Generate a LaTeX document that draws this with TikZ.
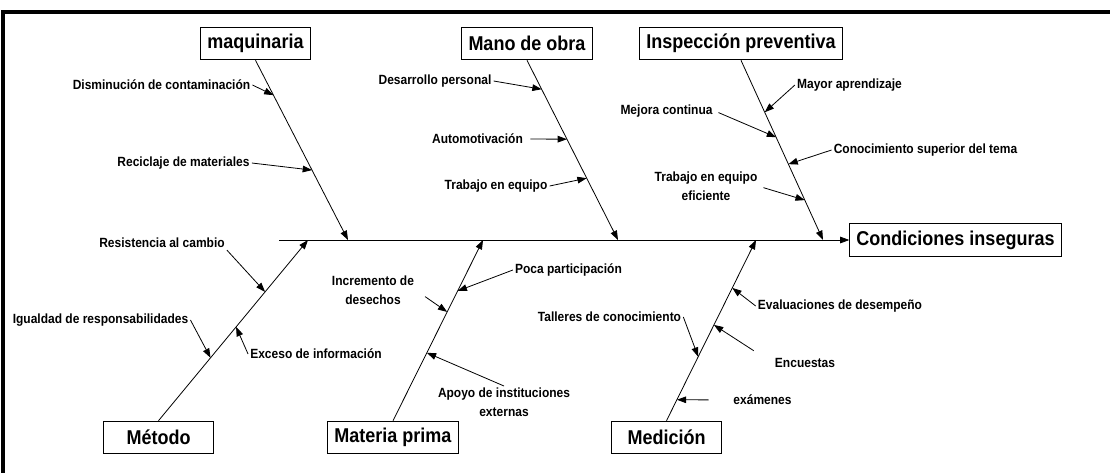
\documentclass[tikz,border=0pt]{standalone}
\usepackage{fontspec}
\newfontfamily\fishfont{Liberation Sans}[FakeStretch=0.9]
\usetikzlibrary{arrows.meta,calc}
\tikzset{
  catbox/.style={draw=black, line width=0.7pt, fill=white, inner xsep=5pt, inner ysep=0pt, minimum width=82pt, minimum height=24.5pt, font=\fishfont\bfseries\fontsize{15}{17}\selectfont},
  arrow/.style={-{Triangle[length=7pt,width=5pt]}, line width=0.6pt},
  frame/.style={line width=2.3pt}
}

\begin{document}
\begin{tikzpicture}[x=0.75pt, y=-0.75pt, lbl/.style={font=\fishfont\bfseries\fontsize{10}{14}\selectfont, align=center, inner sep=1.5pt}]
\useasboundingbox (0,0) rectangle (1110,472);
\clip (0,0) rectangle (1110,472);
% frame
\draw[frame] (3,12) rectangle (1120,480);
% effect and spine
\node[catbox] (cond) at (955.5,240) {Condiciones inseguras};
\coordinate (tail) at (279,240);
\draw[arrow] (tail) -- (cond.west);
% categories
\node[catbox] (maq) at (255.5,43.5) {maquinaria};
\node[catbox] (mano) at (527,43.5) {Mano de obra};
\node[catbox] (insp) at (741,43.5) {Inspección preventiva};
\node[catbox] (met) at (158.5,437.5) {Método};
\node[catbox] (mat) at (393,437.5) {Materia prima};
\node[catbox] (med) at (666.5,437.5) {Medición};
% main bones
\coordinate (jmaq) at (348,240);
\coordinate (jmano) at (618,240);
\coordinate (jinsp) at (823,240);
\coordinate (jmet) at (308,240);
\coordinate (jmat) at (483,240);
\coordinate (jmed) at (756,240);
\draw[arrow] (maq.south) -- (jmaq);
\draw[arrow] (mano.south) -- (jmano);
\draw[arrow] (insp.south) -- (jinsp);
\draw[arrow] (met.north) -- (jmet);
\draw[arrow] (mat.north) -- (jmat);
\draw[arrow] (med.north) -- (jmed);
% maquinaria causes
\node[lbl] (dis) at (161.5,85) {Disminución de contaminación};
\node[lbl] (rec) at (183.5,163) {Reciclaje de materiales};
\coordinate (tdis) at ($(maq.south)!0.194!(jmaq)$);
\coordinate (trec) at ($(maq.south)!0.611!(jmaq)$);
\draw[arrow] (dis.east) -- (tdis);
\draw[arrow] (rec.east) -- (trec);
% mano de obra causes
\node[lbl] (des) at (435,81) {Desarrollo personal};
\node[lbl] (aut) at (477.5,139) {Automotivación};
\node[lbl] (tra) at (496,186) {Trabajo en equipo};
\coordinate (tdes) at ($(mano.south)!0.161!(jmano)$);
\coordinate (taut) at ($(mano.south)!0.439!(jmano)$);
\coordinate (ttra) at ($(mano.south)!0.656!(jmano)$);
\draw[arrow] (des.east) -- (tdes);
\draw[arrow, shorten <=4pt] (aut.east) -- (taut);
\draw[arrow] (tra.east) -- (ttra);
% inspeccion causes
\node[lbl] (may) at (849.5,85) {Mayor aprendizaje};
\node[lbl] (mej) at (666.5,111) {Mejora continua};
\node[lbl] (con) at (925.5,150) {Conocimiento superior del tema};
\node[lbl] (efi) at (706,186.5) {Trabajo en equipo\\eficiente};
\coordinate (tmay) at ($(insp.south)!0.289!(jinsp)$);
\coordinate (tmej) at ($(insp.south)!0.428!(jinsp)$);
\coordinate (tcon) at ($(insp.south)!0.578!(jinsp)$);
\coordinate (tefi) at ($(insp.south)!0.778!(jinsp)$);
\draw[arrow] (may.west) -- (tmay);
\draw[arrow, shorten <=3pt] (mej.east) -- (tmej);
\draw[arrow] (con.west) -- (tcon);
\draw[arrow, shorten <=3pt] (efi.east) -- (tefi);
% metodo causes
\node[lbl] (res) at (162,243) {Resistencia al cambio};
\node[lbl] (igu) at (100.5,320) {Igualdad de responsabilidades};
\node[lbl] (exc) at (316,354) {Exceso de información};
\coordinate (tres) at ($(met.north)!0.713!(jmet)$);
\coordinate (tigu) at ($(met.north)!0.348!(jmet)$);
\coordinate (texc) at ($(met.north)!0.519!(jmet)$);
\draw[arrow] (res.south east) -- (tres);
\draw[arrow] (igu.east) -- (tigu);
\draw[arrow] (exc.west) -- (texc);
% materia prima causes
\node[lbl] (inc) at (373,290.5) {Incremento de\\desechos};
\node[lbl] (poc) at (568.5,270) {Poca participación};
\node[lbl] (apo) at (504,402.5) {Apoyo de instituciones\\externas};
\coordinate (tinc) at ($(mat.north)!0.602!(jmat)$);
\coordinate (tpoc) at ($(mat.north)!0.718!(jmat)$);
\coordinate (tapo) at ($(mat.north)!0.376!(jmat)$);
\draw[arrow, shorten <=8pt] (inc.east) -- (tinc);
\draw[arrow] (poc.west) -- (tpoc);
\draw[arrow] (apo.north) -- (tapo);
% medicion causes
\node[lbl] (tal) at (609.5,317) {Talleres de conocimiento};
\node[lbl] (eva) at (840,306) {Evaluaciones de desempeño};
\node[lbl] (enc) at (805,363) {Encuestas};
\node[lbl] (exa) at (762.5,400) {exámenes};
\coordinate (ttal) at ($(med.north)!0.354!(jmed)$);
\coordinate (teva) at ($(med.north)!0.735!(jmed)$);
\coordinate (tenc) at ($(med.north)!0.530!(jmed)$);
\coordinate (texa) at ($(med.north)!0.116!(jmed)$);
\draw[arrow] (tal.east) -- (ttal);
\draw[arrow] (eva.west) -- (teva);
\draw[arrow, shorten <=17pt] (enc.west) -- (tenc);
\draw[arrow, shorten <=17pt] (exa.west) -- (texa);
\end{tikzpicture}
\end{document}
